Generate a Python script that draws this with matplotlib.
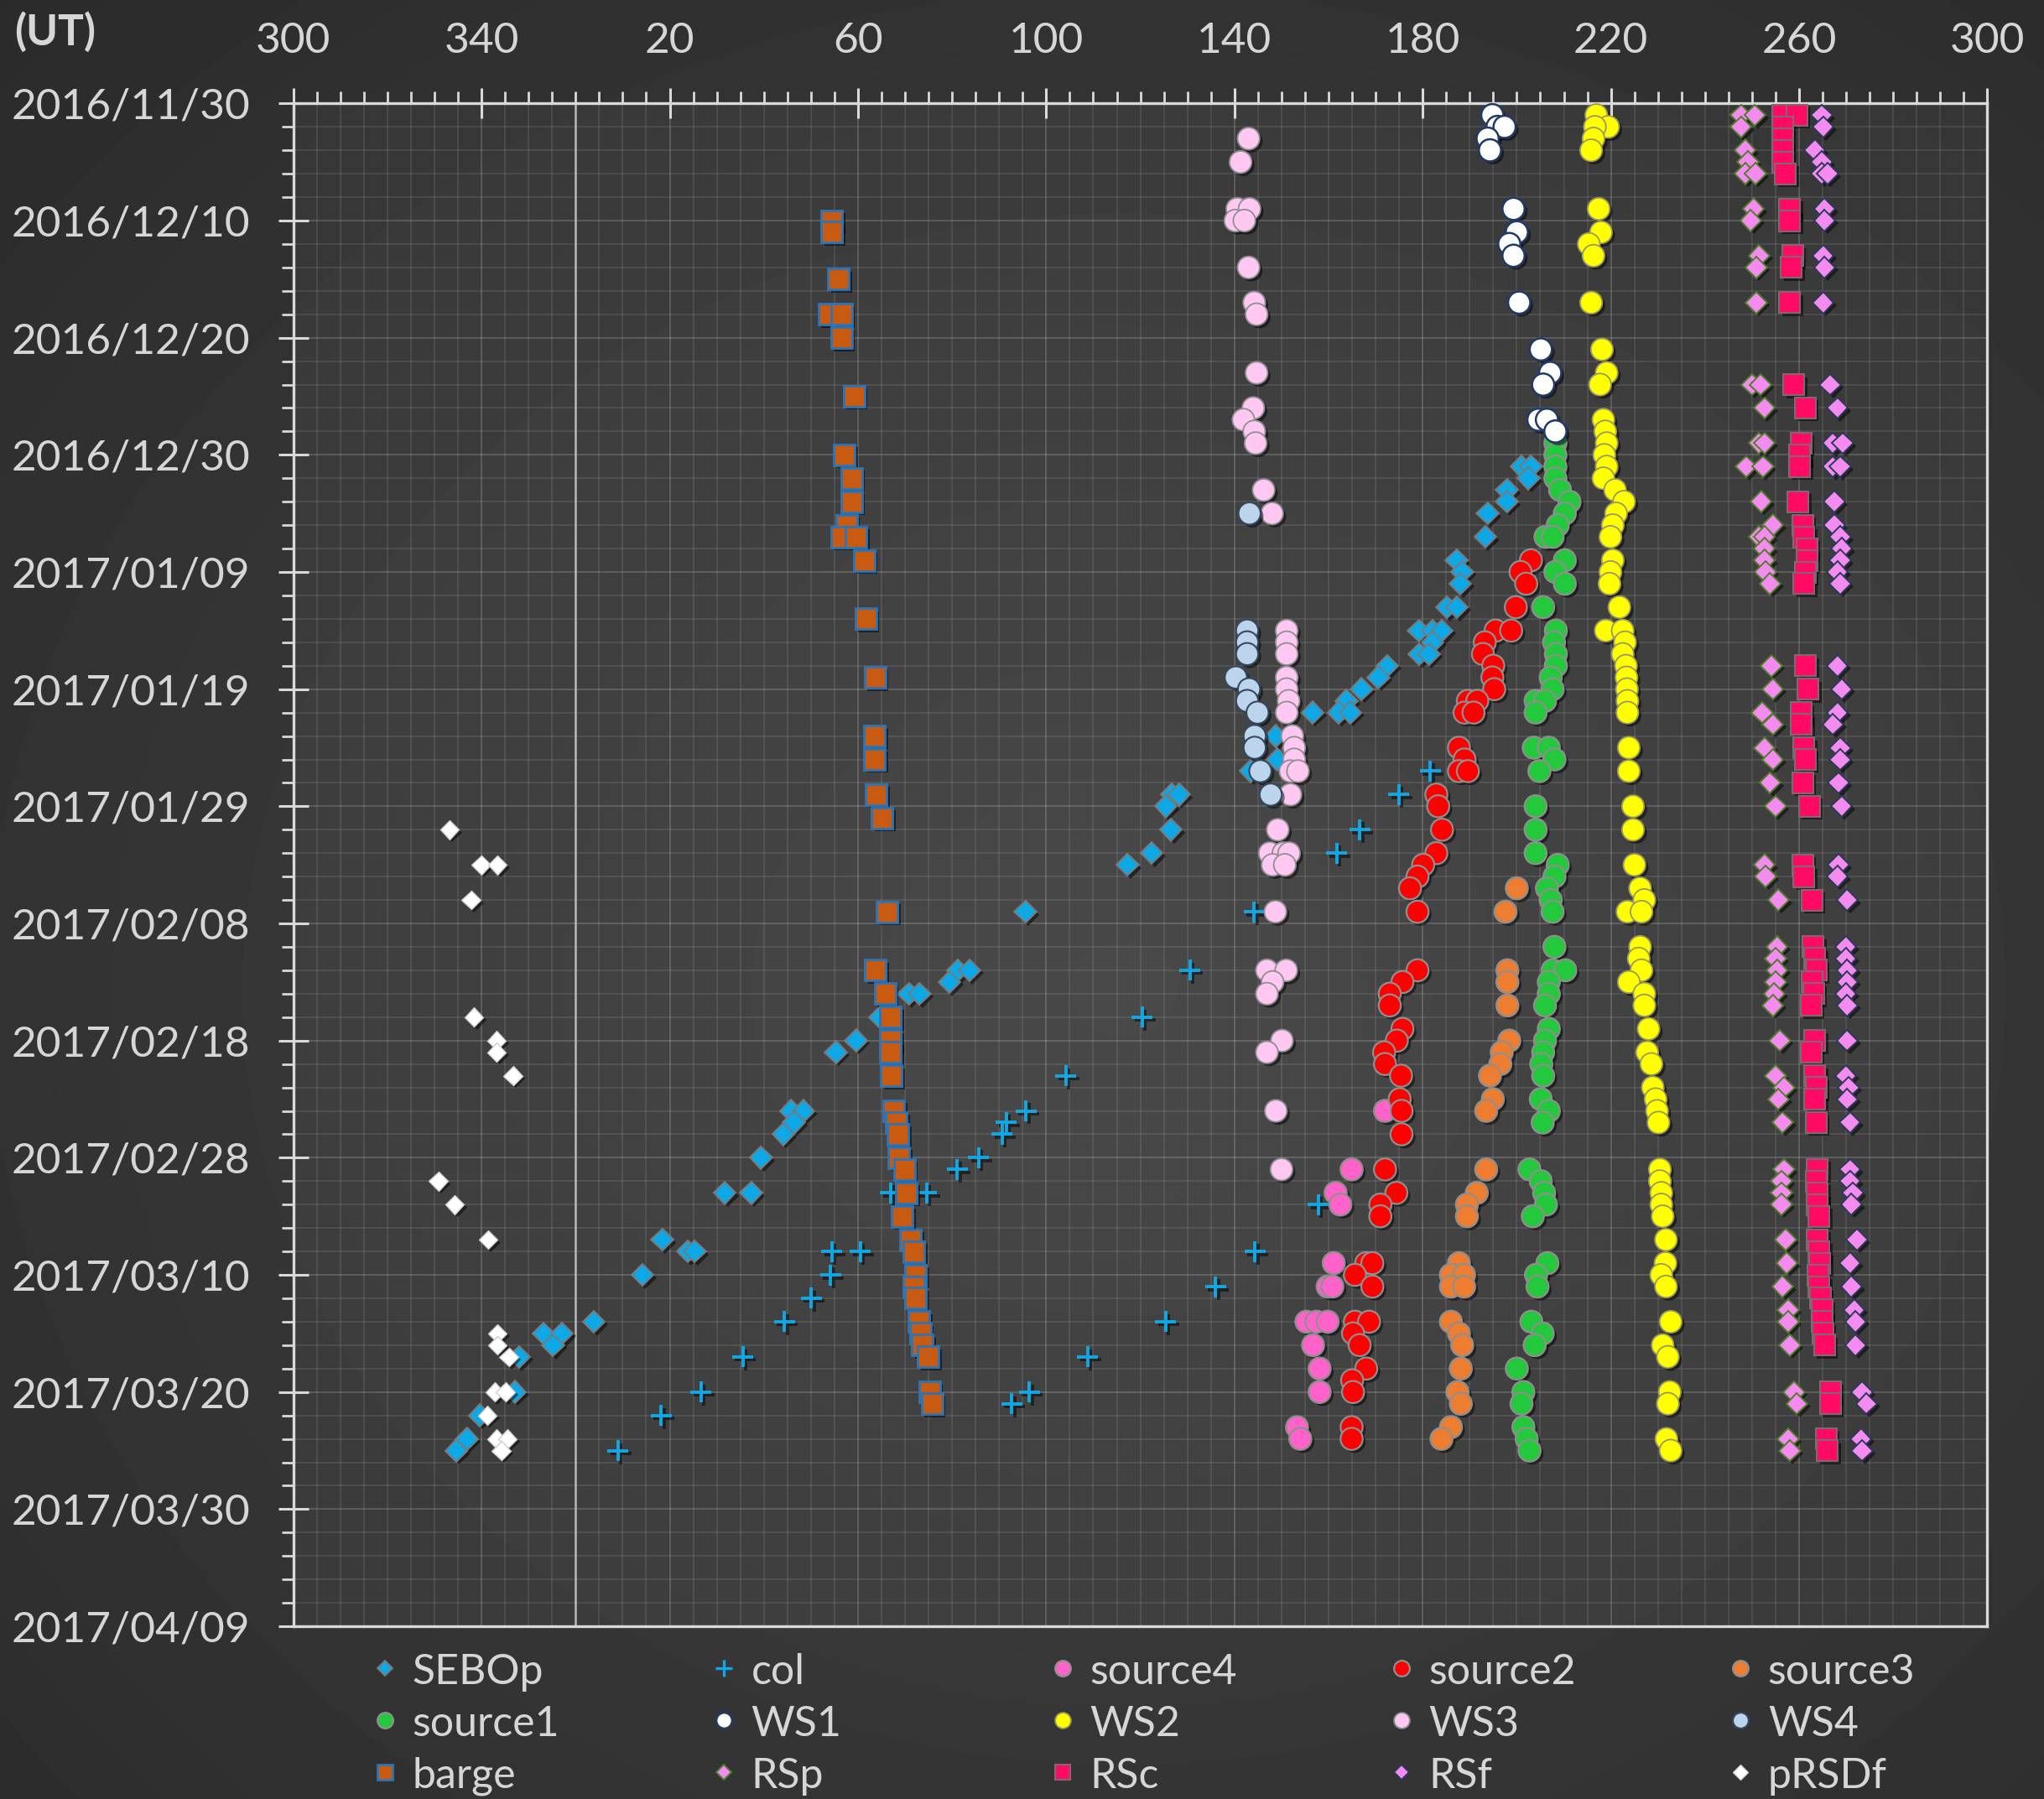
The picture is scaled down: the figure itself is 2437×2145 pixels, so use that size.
import numpy as np
import matplotlib
matplotlib.use("Agg")
import matplotlib.pyplot as plt
import matplotlib.patheffects as pe
from matplotlib.ticker import MultipleLocator, FixedLocator, FuncFormatter
from datetime import date, timedelta

plt.rcParams['font.family'] = ['Lato', 'DejaVu Sans']

START = date(2016, 11, 30)   # day 0 of the time axis

# ---------------- observations: day offset from START, longitude (deg) ----------------
sebop_day = [31, 31, 32, 33, 34, 35, 37, 39, 40, 41, 43, 43, 45, 45, 45, 46, 47, 47, 48, 49,
             50, 51, 52, 52, 52, 54, 56, 57, 59, 59, 60, 62, 64, 65, 69, 74, 74, 75, 76, 76,
             78, 80, 81, 86, 86, 87, 88, 90, 93, 93, 97, 98, 98, 100, 104, 105, 105, 106, 107, 110,
             112, 114, 115]
sebop_lon = [201.0, 203.0, 202.5, 197.9, 197.9, 193.8, 193.3, 187.2, 188.4, 188.0, 185.2, 187.3,
             179.2, 182.1, 184.1, 182.1, 179.3, 181.3, 172.5, 170.6, 167.0, 163.8, 156.6, 162.2,
             164.6, 148.8, 149.1, 143.5, 126.7, 128.2, 125.4, 126.5, 122.4, 117.3, 95.6, 81.2,
             83.7, 79.4, 70.8, 73.1, 64.6, 59.6, 55.3, 45.8, 48.4, 46.4, 44.1, 39.4, 31.7, 37.3,
             18.4, 23.9, 25.3, 14.2, 3.9, 353.2, 357.1, 355.2, 348.0, 347.1, 339.6, 336.9, 334.6]

col_day = [115, 112, 110, 107, 104, 102, 100, 98, 98, 93, 93, 91, 90, 88, 87, 86, 83, 78, 74, 69,
           64, 62, 59, 57, 111, 110, 107, 104, 101, 98, 94]
col_lon = [9.0, 18.2, 26.6, 35.5, 44.4, 50.1, 54.2, 54.4, 60.5, 66.9, 74.6, 81.1, 85.6, 90.6,
           91.5, 95.7, 104.2, 120.4, 130.5, 144.2, 161.7, 166.6, 174.9, 181.6, 92.7, 96.4, 108.8,
           125.4, 136.0, 144.4, 157.8]

source4_day = [86, 91, 93, 94, 99, 101, 101, 104, 104, 104, 106, 108, 110, 113, 114]
source4_lon = [172.0, 164.9, 161.5, 162.5, 161.1, 159.8, 160.8, 155.3, 157.4, 159.8, 156.7,
               158.1, 158.1, 153.3, 154.0]

source2_day = [39, 40, 41, 43, 45, 45, 46, 47, 48, 49, 50, 51, 51, 52, 52, 55, 56, 57, 57, 59,
               60, 62, 64, 65, 66, 67, 69, 74, 75, 76, 77, 79, 80, 81, 82, 83, 85, 86, 88, 91,
               93, 94, 95, 99, 99, 100, 101, 104, 104, 105, 106, 108, 109, 110, 113, 114]
source2_lon = [203.0, 200.8, 202.0, 199.8, 195.5, 198.8, 193.2, 192.8, 195.0, 194.8, 195.2,
               189.6, 191.6, 188.9, 190.8, 187.7, 188.9, 187.7, 189.6, 182.9, 183.3, 184.1,
               182.9, 180.1, 178.9, 177.3, 178.9, 178.9, 175.7, 173.0, 173.0, 175.7, 174.5,
               171.8, 172.0, 175.4, 175.1, 175.5, 175.5, 172.0, 174.4, 171.0, 171.0, 168.0,
               169.3, 165.6, 169.3, 165.6, 168.6, 165.2, 166.6, 168.0, 165.0, 165.2, 164.9, 164.9]

source3_day = [67, 69, 74, 75, 77, 80, 81, 82, 83, 85, 86, 91, 93, 94, 95, 99, 100, 100, 101, 101,
               104, 105, 106, 108, 110, 111, 113, 114]
source3_lon = [200.0, 197.6, 198.0, 198.0, 198.0, 198.4, 196.8, 196.5, 194.3, 194.9, 193.5,
               193.5, 191.5, 189.4, 189.4, 187.7, 186.0, 188.8, 186.0, 188.8, 186.0, 187.7,
               188.4, 188.1, 187.4, 188.1, 186.0, 184.0]

source1_day = [29, 30, 31, 32, 33, 34, 35, 36, 37, 37, 39, 40, 41, 43, 45, 46, 47, 48, 49, 50,
               51, 51, 52, 55, 55, 56, 57, 60, 62, 64, 65, 66, 67, 68, 69, 72, 74, 74, 75, 76,
               77, 79, 80, 81, 82, 83, 85, 86, 87, 91, 92, 93, 94, 95, 99, 100, 101, 104, 105, 106,
               108, 110, 111, 113, 114, 115]
source1_lon = [208.2, 208.2, 208.2, 208.2, 209.2, 211.2, 210.2, 208.7, 206.1, 207.6, 210.2,
               208.2, 210.2, 205.6, 208.3, 207.9, 208.3, 208.3, 207.2, 207.6, 204.0, 206.0,
               204.0, 203.6, 206.8, 208.0, 204.8, 204.0, 204.0, 204.0, 208.7, 208.0, 206.4,
               207.2, 207.6, 208.0, 207.6, 210.3, 206.8, 206.8, 206.0, 206.8, 206.0, 205.6,
               205.2, 205.6, 205.1, 206.8, 205.5, 202.7, 205.1, 205.8, 206.2, 203.4, 206.5,
               204.1, 204.4, 203.1, 205.5, 203.8, 200.0, 201.4, 201.0, 201.4, 202.1, 202.7]

ws1_day = [1, 2, 2, 3, 4, 9, 11, 12, 13, 17, 21, 23, 24, 27, 27, 28]
ws1_lon = [194.8, 195.9, 197.4, 193.8, 194.3, 199.3, 200.0, 198.4, 199.3, 200.5, 205.1, 207.1,
           205.6, 204.6, 206.4, 208.2]

ws2_day = [1, 2, 2, 3, 4, 9, 11, 12, 13, 17, 21, 23, 24, 27, 28, 29, 30, 31, 32, 33,
           34, 35, 36, 37, 39, 40, 41, 43, 45, 45, 46, 47, 48, 49, 50, 51, 52, 55, 57, 60,
           62, 65, 67, 68, 69, 69, 72, 73, 74, 75, 76, 77, 79, 81, 82, 84, 85, 86, 87, 91,
           92, 93, 94, 95, 97, 99, 100, 101, 104, 106, 107, 110, 111, 114, 115]
ws2_lon = [216.9, 219.4, 216.6, 216.3, 215.8, 217.4, 217.9, 215.3, 216.3, 215.8, 218.1, 219.1,
           217.7, 218.4, 218.8, 219.1, 218.6, 219.1, 218.4, 220.9, 222.8, 221.1, 220.4, 219.9,
           220.4, 219.9, 219.7, 221.8, 218.9, 222.5, 223.0, 222.5, 223.2, 223.3, 223.4, 223.5,
           223.5, 223.8, 223.8, 224.7, 224.7, 225.0, 226.2, 227.1, 223.5, 226.5, 226.2, 225.9,
           226.5, 223.8, 227.1, 227.1, 228.0, 227.7, 228.6, 228.9, 229.5, 229.8, 230.1, 230.4,
           230.4, 230.7, 230.7, 231.0, 231.7, 231.6, 230.7, 231.7, 232.7, 231.0, 232.1, 232.5,
           232.1, 231.8, 232.7]

ws3_day = [3, 5, 9, 9, 10, 10, 14, 17, 18, 23, 26, 27, 28, 29, 33, 35, 45, 46, 47, 49,
           50, 51, 52, 54, 55, 56, 57, 57, 59, 62, 64, 64, 64, 65, 65, 69, 74, 74, 75, 76,
           80, 81, 86, 91]
ws3_lon = [143.0, 141.3, 140.6, 143.2, 140.2, 142.1, 143.0, 144.2, 144.7, 144.7, 144.0, 141.9,
           144.2, 144.5, 146.2, 148.0, 151.1, 151.1, 151.1, 151.1, 151.1, 151.5, 151.1, 152.3,
           152.7, 152.7, 151.9, 153.5, 151.9, 149.2, 147.5, 150.4, 151.6, 148.1, 150.7, 148.7,
           146.9, 151.0, 148.1, 146.9, 150.1, 146.9, 148.8, 150.0]

ws4_day = [35, 45, 46, 47, 49, 50, 51, 52, 54, 55, 57, 59]
ws4_lon = [143.2, 142.7, 142.7, 142.7, 140.3, 143.1, 142.7, 144.9, 144.3, 144.3, 145.5, 147.7]

barge_day = [10, 11, 15, 18, 18, 20, 25, 30, 32, 34, 36, 37, 37, 39, 44, 49, 54, 56, 59, 61,
             69, 74, 76, 78, 80, 81, 83, 86, 87, 88, 90, 91, 93, 95, 97, 98, 100, 101, 102, 104,
             105, 106, 107, 110, 111]
barge_lon = [54.4, 54.4, 55.9, 53.8, 56.5, 56.5, 59.2, 57.1, 58.6, 58.6, 57.6, 56.5, 59.6, 61.3,
             61.7, 63.6, 63.5, 63.5, 63.9, 65.1, 66.2, 63.7, 65.8, 66.9, 66.9, 66.9, 67.1, 67.6,
             68.2, 68.5, 68.7, 69.9, 70.3, 69.4, 71.2, 71.9, 72.3, 71.9, 72.3, 73.0, 73.2, 73.7,
             74.9, 75.2, 75.7]

rsp_day = [1, 1, 2, 4, 5, 6, 6, 9, 10, 13, 14, 17, 24, 24, 26, 29, 29, 31, 31, 34,
           36, 37, 37, 38, 39, 40, 41, 48, 50, 52, 53, 55, 56, 58, 60, 65, 66, 68, 72, 73,
           74, 75, 76, 77, 80, 83, 84, 85, 87, 91, 92, 93, 94, 97, 99, 101, 103, 104, 106, 110,
           111, 114, 115]
rsp_lon = [247.6, 250.6, 247.6, 248.5, 249.1, 248.5, 250.7, 250.3, 249.7, 251.5, 250.9, 250.9,
           250.0, 251.8, 252.6, 251.5, 252.6, 248.8, 252.3, 251.9, 254.4, 251.5, 252.6, 252.6,
           252.6, 252.9, 253.8, 254.1, 254.4, 252.1, 254.4, 252.6, 254.4, 253.8, 255.0, 252.6,
           252.9, 255.6, 255.3, 255.0, 255.3, 255.0, 254.7, 254.4, 255.9, 255.0, 256.8, 255.6,
           256.5, 256.8, 256.2, 256.2, 256.2, 257.1, 257.4, 256.5, 257.7, 257.7, 258.0, 258.9,
           259.5, 257.7, 258.0]

rsc_day = [1, 1, 2, 3, 4, 5, 6, 9, 10, 13, 14, 17, 24, 26, 29, 30, 31, 34, 36, 37,
           38, 39, 40, 41, 48, 50, 52, 53, 55, 56, 58, 60, 65, 66, 68, 72, 73, 74, 75, 76,
           77, 80, 81, 83, 84, 85, 87, 91, 92, 93, 94, 95, 97, 98, 99, 100, 101, 102, 103, 104,
           105, 106, 110, 111, 114, 115]
rsc_lon = [256.5, 259.5, 256.5, 256.5, 256.5, 256.5, 257.1, 258.0, 258.0, 258.6, 258.3, 258.0,
           258.9, 261.3, 260.4, 260.1, 260.1, 259.8, 260.7, 261.0, 261.6, 261.6, 261.3, 261.0,
           261.4, 261.9, 260.4, 260.5, 261.0, 261.3, 260.7, 262.2, 260.7, 261.0, 262.7, 263.0,
           263.3, 263.6, 262.8, 263.1, 262.5, 263.3, 262.5, 263.3, 263.6, 263.3, 263.6, 263.9,
           263.6, 263.9, 263.9, 264.2, 263.9, 264.2, 264.4, 264.0, 264.2, 264.5, 264.8, 264.8,
           265.0, 265.4, 266.6, 266.6, 265.7, 266.0]

rsf_day = [1, 2, 4, 5, 6, 6, 9, 10, 13, 14, 17, 24, 26, 29, 29, 31, 31, 34, 36, 37,
           38, 39, 40, 41, 48, 50, 52, 53, 55, 56, 58, 60, 65, 66, 68, 72, 73, 74, 75, 76,
           77, 80, 83, 84, 85, 87, 91, 92, 93, 94, 97, 99, 101, 103, 104, 106, 110, 111, 114, 115]
rsf_lon = [264.8, 265.1, 263.3, 264.8, 264.8, 266.0, 265.4, 265.4, 265.1, 265.4, 265.1, 266.6,
           268.1, 267.2, 269.3, 267.2, 268.7, 267.5, 267.5, 268.7, 269.0, 268.7, 268.1, 268.7,
           268.1, 269.0, 268.1, 267.2, 268.7, 268.7, 268.4, 269.0, 268.4, 268.1, 270.2, 269.9,
           269.9, 270.2, 270.2, 269.9, 270.2, 270.2, 269.9, 270.5, 270.2, 270.8, 270.8, 270.8,
           271.4, 271.1, 272.3, 270.8, 271.1, 271.7, 272.0, 272.0, 273.4, 274.3, 273.1, 273.4]

prsdf_day = [62, 65, 65, 68, 78, 80, 81, 83, 92, 94, 97, 105, 106, 107, 110, 110, 112, 114, 114, 115]
prsdf_lon = [333.2, 339.9, 343.4, 337.8, 338.4, 343.2, 343.2, 346.7, 330.8, 334.3, 341.4, 343.4,
             343.4, 345.8, 342.8, 345.1, 341.2, 343.2, 345.5, 344.2]

legend_rows = [["SEBOp", "col", "source4", "source2", "source3"],
               ["source1", "WS1", "WS2", "WS3", "WS4"],
               ["barge", "RSp", "RSc", "RSf", "pRSDf"]]

# ---------------- marker styles ----------------
GRAY_EDGE = "#8f8f8f"
styles = {
    "SEBOp":   dict(marker="D", ms=13.5, mfc="#0fa8e6", mec="#7a7a7a", mew=1.4),
    "col":     dict(marker="+", ms=18, mfc="none", mec="#12a6e2", mew=2.8),
    "source4": dict(marker="o", ms=19, mfc="#ff62c8", mec=GRAY_EDGE, mew=1.6),
    "source2": dict(marker="o", ms=19, mfc="#ff0000", mec=GRAY_EDGE, mew=1.6),
    "source3": dict(marker="o", ms=19, mfc="#ed7d31", mec=GRAY_EDGE, mew=1.6),
    "source1": dict(marker="o", ms=19, mfc="#24c83c", mec=GRAY_EDGE, mew=1.6),
    "WS1":     dict(marker="o", ms=19, mfc="#ffffff", mec="#203a6a", mew=1.8),
    "WS2":     dict(marker="o", ms=19, mfc="#ffff00", mec="#9a9a60", mew=1.3),
    "WS3":     dict(marker="o", ms=19, mfc="#ffc8f2", mec=GRAY_EDGE, mew=1.3),
    "WS4":     dict(marker="o", ms=19, mfc="#bcd5ec", mec="#34495f", mew=1.5),
    "barge":   dict(marker="s", ms=18, mfc="#c95a12", mec="#2e75b6", mew=2.0),
    "RSp":     dict(marker="D", ms=13, mfc="#f48cf0", mec="#4f7f2a", mew=1.4),
    "RSc":     dict(marker="s", ms=18, mfc="#ff0a64", mec="#7f6870", mew=1.5),
    "RSf":     dict(marker="D", ms=13, mfc="#f48cf0", mec="#2c3a58", mew=1.4),
    "pRSDf":   dict(marker="D", ms=11.5, mfc="#ffffff", mec="#cfcfcf", mew=1.0),
}
legend_ms = {"D": 9.5, "o": 13.5, "s": 12.5, "+": 14}

series = {
    "SEBOp": (sebop_day, sebop_lon), "col": (col_day, col_lon),
    "source4": (source4_day, source4_lon), "source2": (source2_day, source2_lon),
    "source3": (source3_day, source3_lon), "source1": (source1_day, source1_lon),
    "WS1": (ws1_day, ws1_lon), "WS2": (ws2_day, ws2_lon), "WS3": (ws3_day, ws3_lon),
    "WS4": (ws4_day, ws4_lon), "barge": (barge_day, barge_lon), "RSp": (rsp_day, rsp_lon),
    "RSc": (rsc_day, rsc_lon), "RSf": (rsf_day, rsf_lon), "pRSDf": (prsdf_day, prsdf_lon),
}
draw_order = ["SEBOp", "col", "source4", "source2", "source3", "source1", "WS1", "WS2",
              "WS3", "WS4", "barge", "RSp", "RSc", "RSf", "pRSDf"]

X0 = 300.0   # left edge of the longitude axis; it spans one full turn


def unwrap(lon):
    lon = np.asarray(lon, dtype=float)
    return np.where(lon < X0, lon + 360.0, lon)


TEXT = "#d6d6d6"
AXIS = "#d9d9d9"

fig = plt.figure(figsize=(24.37, 21.45), dpi=100)

# dark radial backdrop
bg = fig.add_axes([0, 0, 1, 1])
gy, gx = np.mgrid[0:1:400j, 0:1:400j]
rr = np.hypot((gx - 0.55) / 0.8, (gy - 0.45) / 0.8)
shade = 0.265 - 0.10 * np.clip(rr, 0, 1.3)
bg.imshow(shade, cmap="gray", vmin=0, vmax=1, extent=[0, 1, 0, 1], aspect="auto",
          origin="lower", interpolation="bilinear")
bg.set_axis_off()

ax = fig.add_axes([0.1435, 0.0960, 0.8288, 0.8465])
ax.set_facecolor((1, 1, 1, 0.035))
ax.set_xlim(X0, X0 + 360)
ax.set_ylim(130, 0)

ax.xaxis.tick_top()
ax.xaxis.set_major_locator(FixedLocator(np.arange(X0, X0 + 361, 40)))
ax.xaxis.set_minor_locator(MultipleLocator(5))
ax.yaxis.set_major_locator(MultipleLocator(10))
ax.yaxis.set_minor_locator(MultipleLocator(2))
ax.xaxis.set_major_formatter(FuncFormatter(lambda v, p: f"{int(round(v)) % 360}"))
ax.yaxis.set_major_formatter(
    FuncFormatter(lambda v, p: (START + timedelta(days=int(round(v)))).strftime("%Y/%m/%d")))

ax.tick_params(axis="both", which="major", direction="inout", length=26, width=2.2,
               color=AXIS, labelcolor=TEXT, labelsize=37, pad=24)
ax.tick_params(axis="both", which="minor", direction="out", length=10, width=2.0, color=AXIS)
ax.tick_params(axis="x", which="both", top=True, bottom=False, labeltop=True, labelbottom=False)

ax.grid(which="minor", color="white", alpha=0.11, lw=1.2)
ax.grid(which="major", color="white", alpha=0.17, lw=1.4)
ax.set_axisbelow(True)
ax.axvline(360, color="#b8b8b8", lw=1.8, zorder=1.5)

for s in ax.spines.values():
    s.set_color(AXIS)
    s.set_linewidth(2.4)

shadow_fill = [pe.SimplePatchShadow(offset=(2.5, -2.5), shadow_rgbFace="black", alpha=0.5),
               pe.Normal()]
shadow_line = [pe.SimpleLineShadow(offset=(2.5, -2.5), shadow_color="black", alpha=0.5),
               pe.Normal()]

for z, name in enumerate(draw_order):
    days, lons = series[name]
    st = styles[name]
    effects = shadow_line if st["marker"] == "+" else shadow_fill
    ax.plot(unwrap(lons), np.asarray(days, float), linestyle="none", zorder=3 + z * 0.01,
            path_effects=effects, clip_on=False, **st)

fig.text(0.027, 0.982, "(UT)", color=TEXT, fontsize=37, fontweight="bold",
         ha="center", va="center")

# legend laid out on a regular 5 x 3 grid under the plot
lax = fig.add_axes([0, 0, 1, 1], facecolor="none")
lax.set_xlim(0, 1)
lax.set_ylim(0, 1)
lax.set_axis_off()
col_x = [0.1882, 0.3540, 0.5198, 0.6856, 0.8514]
row_y = [0.0727, 0.0438, 0.0148]
for r, row in enumerate(legend_rows):
    for c, name in enumerate(row):
        st = dict(styles[name])
        st["ms"] = legend_ms[st["marker"]]
        if st["marker"] == "+":
            st["mew"] = 2.4
        lax.plot([col_x[c]], [row_y[r]], linestyle="none", **st)
        lax.text(col_x[c] + 0.0135, row_y[r], name, color=TEXT, fontsize=36,
                 ha="left", va="center_baseline")

fig.savefig("out.png", dpi=100)
